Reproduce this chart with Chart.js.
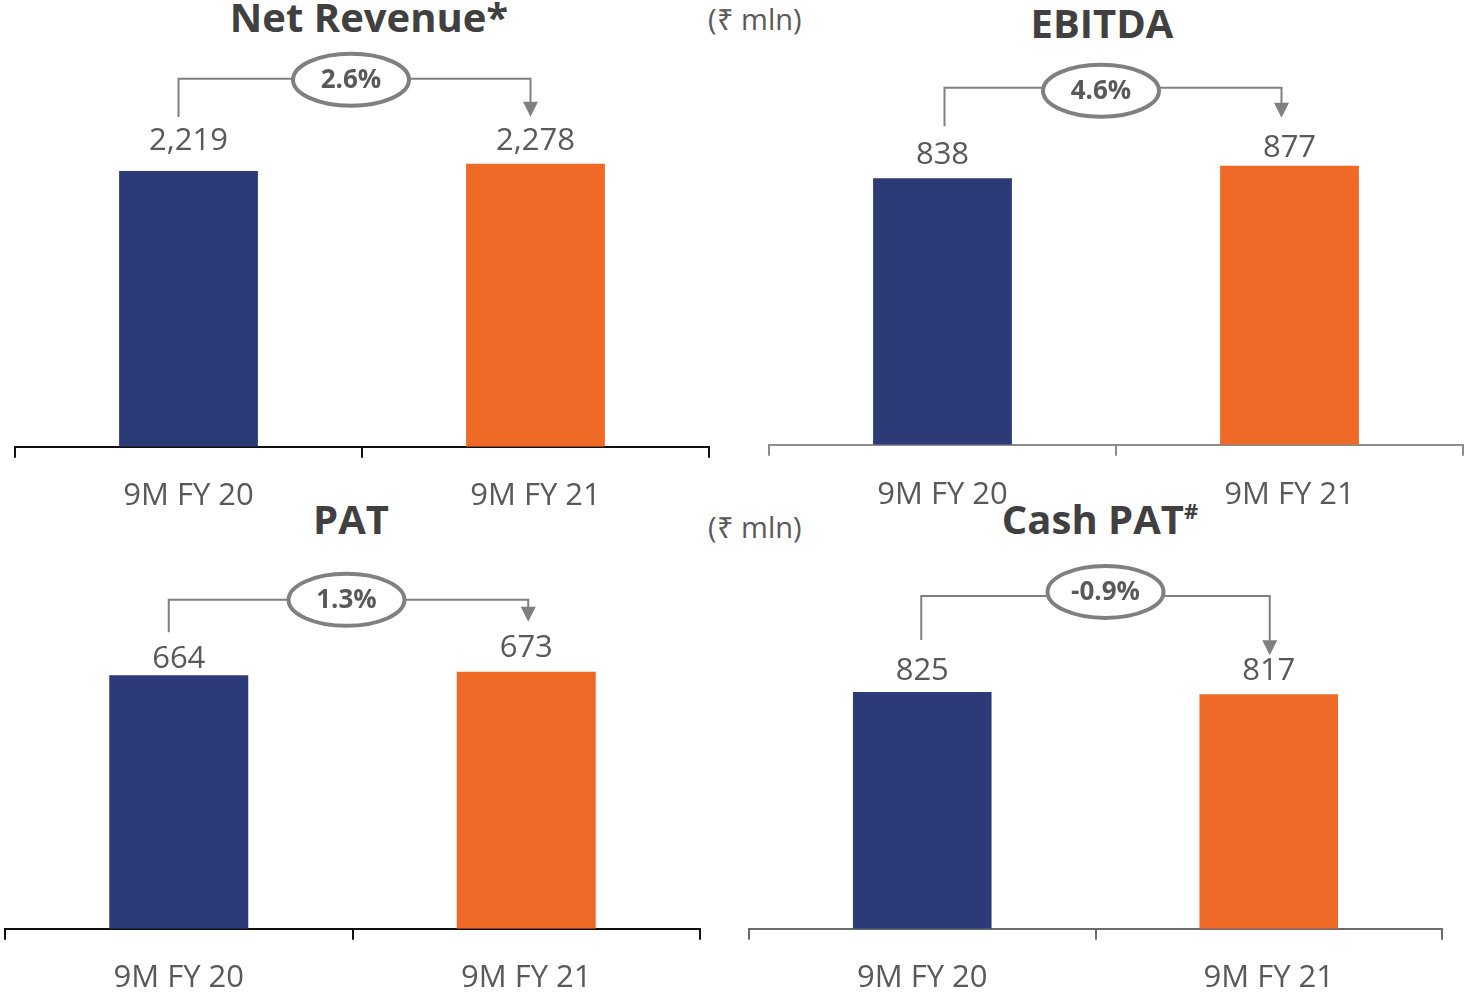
<!DOCTYPE html>
<html>
<head>
<meta charset="utf-8">
<script src="https://cdn.jsdelivr.net/npm/chart.js@4"></script>
<style>
  body { margin: 0; width: 1465px; height: 993px; background: #fff; position: relative; overflow: hidden; font-family: "Open Sans", sans-serif; }
  canvas { position: absolute; }
  .title { position: absolute; font-weight: 700; font-size: 40px; line-height: 1; color: #404040; transform: translateX(-50%); white-space: nowrap; }
  .title sup { font-size: 22px; vertical-align: 15px; line-height: 0; }
  .unit { position: absolute; font-size: 29px; line-height: 1; color: #595959; white-space: nowrap; }
</style>
</head>
<body>
<div class="title" style="left:369px;top:-3px">Net Revenue*</div>
<div class="title" style="left:1102px;top:3px">EBITDA</div>
<div class="title" style="left:351px;top:499px">PAT</div>
<div class="title" style="left:1100px;top:499px">Cash PAT<sup>#</sup></div>
<div class="unit" style="left:708px;top:4px">(₹ mln)</div>
<div class="unit" style="left:708px;top:512px">(₹ mln)</div>

<canvas id="c1"></canvas>
<canvas id="c2"></canvas>
<canvas id="c3"></canvas>
<canvas id="c4"></canvas>

<script>
// ---------------------
// Data
// ---------------------
const categories = ['9M FY 20', '9M FY 21'];
const netRevenue = [2219, 2278];
const ebitda = [838, 877];
const pat = [664, 673];
const cashPat = [825, 817];
const growthLabels = ['2.6%', '4.6%', '1.3%', '-0.9%'];
const yMax = [3000, 1200, 1000, 1300];

const barColors = ['#2c3a78', '#ef6a27'];
const textColor = '#595959';
const bracketColor = '#808080';

// ---------------------
// Panel layout (canvas box, padding, annotation offsets)
// ---------------------
const panels = [
  { id: 'c1', values: netRevenue, growth: growthLabels[0], max: yMax[0],
    box: [0, 0, 725, 543], pad: { left: 15, right: 16, top: 74, bottom: 8 }, tickPad: 20,
    axisColor: '#111', labelLift: [30, 23],
    br: { lx: -10, rx: -5, rise: 85, ldrop: 54, rdrop: 47, ex: -11, ey: 1 } },
  { id: 'c2', values: ebitda, growth: growthLabels[1], max: yMax[1],
    box: [740, 0, 725, 545], pad: { left: 29, right: 2, top: 63, bottom: 10 }, tickPad: 21,
    axisColor: '#8c8c8c', labelLift: [23, 18],
    br: { lx: 2, rx: -8, rise: 78, ldrop: 52, rdrop: 48, ex: -15, ey: 3 } },
  { id: 'c3', values: pat, growth: growthLabels[2], max: yMax[2],
    box: [0, 500, 725, 523], pad: { left: 5, right: 25, top: 47, bottom: 6 }, tickPad: 20,
    axisColor: '#111', labelLift: [16, 24],
    br: { lx: -10, rx: 2, rise: 72, ldrop: 43, rdrop: 50, ex: -6, ey: 0 } },
  { id: 'c4', values: cashPat, growth: growthLabels[3], max: yMax[3],
    box: [740, 500, 725, 523], pad: { left: 9, right: 23, top: 55.5, bottom: 6 }, tickPad: 20,
    axisColor: '#6b6b6b', labelLift: [21, 23],
    br: { lx: -1, rx: 1, rise: 96, ldrop: 52, rdrop: 39, ex: 10, ey: -4 } }
];

// value labels + growth bracket
const decor = {
  id: 'decor',
  afterDatasetsDraw(chart, args, opts) {
    const ctx = chart.ctx;
    const bars = chart.getDatasetMeta(0).data;
    const vals = chart.data.datasets[0].data;
    const br = opts.br;
    ctx.save();

    ctx.font = '31px "Open Sans"';
    ctx.fillStyle = textColor;
    ctx.textAlign = 'center';
    ctx.textBaseline = 'middle';
    bars.forEach((b, i) => {
      ctx.fillText(vals[i].toLocaleString('en-US'), b.x, b.y - opts.labelLift[i]);
    });

    const lx = bars[0].x + br.lx;
    const rx = bars[1].x + br.rx;
    const lineY = Math.min(bars[0].y, bars[1].y) - br.rise;
    const leftEnd = bars[0].y - br.ldrop;
    const tipY = bars[1].y - br.rdrop;

    ctx.strokeStyle = bracketColor;
    ctx.lineWidth = 2;
    ctx.beginPath();
    ctx.moveTo(lx, leftEnd);
    ctx.lineTo(lx, lineY);
    ctx.lineTo(rx, lineY);
    ctx.lineTo(rx, tipY - 13);
    ctx.stroke();

    ctx.fillStyle = bracketColor;
    ctx.beginPath();
    ctx.moveTo(rx - 7.5, tipY - 15);
    ctx.lineTo(rx + 7.5, tipY - 15);
    ctx.lineTo(rx, tipY);
    ctx.closePath();
    ctx.fill();

    const cx = (chart.chartArea.left + chart.chartArea.right) / 2 + br.ex;
    const cy = lineY + br.ey;
    ctx.beginPath();
    ctx.ellipse(cx, cy, 58, 26, 0, 0, Math.PI * 2);
    ctx.fillStyle = '#fff';
    ctx.fill();
    ctx.lineWidth = 4;
    ctx.strokeStyle = bracketColor;
    ctx.stroke();

    ctx.font = 'bold 26px "Open Sans"';
    ctx.fillStyle = textColor;
    ctx.fillText(opts.growth, cx, cy + 1);
    ctx.restore();
  }
};

panels.forEach(p => {
  const el = document.getElementById(p.id);
  const [left, top, w, h] = p.box;
  el.style.left = left + 'px';
  el.style.top = top + 'px';
  el.style.width = w + 'px';
  el.style.height = h + 'px';
  el.width = w;
  el.height = h;

  new Chart(el, {
    type: 'bar',
    data: {
      labels: categories,
      datasets: [{
        data: p.values,
        backgroundColor: barColors,
        barPercentage: 0.4,
        categoryPercentage: 1
      }]
    },
    options: {
      responsive: false,
      animation: false,
      devicePixelRatio: 1,
      layout: { padding: p.pad },
      plugins: {
        legend: { display: false },
        tooltip: { enabled: false },
        decor: { br: p.br, labelLift: p.labelLift, growth: p.growth }
      },
      scales: {
        x: {
          grid: { offset: true, drawOnChartArea: false, drawTicks: true, tickLength: 11, color: p.axisColor, lineWidth: 2 },
          border: { display: true, color: p.axisColor, width: 2 },
          ticks: { color: textColor, padding: p.tickPad, font: { family: 'Open Sans', size: 31 } }
        },
        y: { display: false, min: 0, max: p.max }
      }
    },
    plugins: [decor]
  });
});
</script>
</body>
</html>
